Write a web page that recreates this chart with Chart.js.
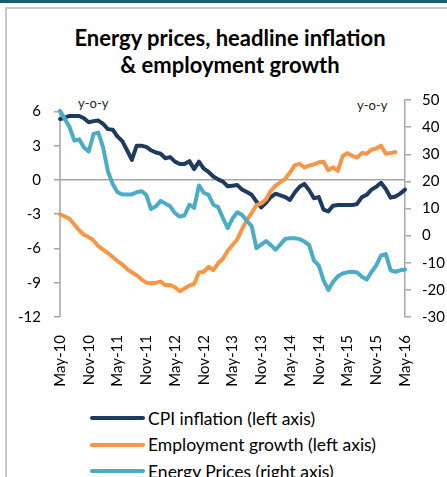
<!DOCTYPE html>
<html>
<head>
<meta charset="utf-8">
<script src="https://cdn.jsdelivr.net/npm/chart.js@4.4.1/dist/chart.umd.min.js"></script>
<style>
  body { margin: 0; background: #fff; }
  #wrap { position: relative; width: 447px; height: 477px; overflow: hidden; background: #fff; font-family: Lato, "Open Sans", sans-serif; }
  #topbar { position: absolute; left: 0; top: 0; width: 447px; height: 3px; background: #1F5A6E; }
  #frame { position: absolute; left: 5px; top: 7px; width: 460px; height: 480px; border-left: 2px solid #C8C8C8; border-top: 2px solid #C8C8C8; }
  #title { position: absolute; left: 5px; width: 450px; top: 24px; text-align: center; font-weight: bold; font-size: 22px; line-height: 27px; color: #000; }
  .yoy { position: absolute; font-size: 13px; color: #222; }
  #chart { position: absolute; left: 0; top: 0; }
  #legend { position: absolute; left: 90px; top: 405px; font-size: 17.5px; color: #000; }
  .item { height: 26.5px; display: flex; align-items: center; white-space: nowrap; }
  .swatch { width: 55px; height: 4px; border-radius: 2px; margin-right: 3px; }
</style>
</head>
<body>
<div id="wrap">
  <div id="topbar"></div>
  <div id="frame"></div>
  <div id="title">Energy prices, headline inflation<br>&amp; employment growth</div>
  <div class="yoy" style="left:78px; top:95px;">y-o-y</div>
  <div class="yoy" style="left:357px; top:97px;">y-o-y</div>
  <canvas id="chart" width="447" height="400"></canvas>
  <div id="legend"></div>
</div>
<script>
// monthly, May-10 .. May-16
const months = ["Jan", "Feb", "Mar", "Apr", "May", "Jun", "Jul", "Aug", "Sep", "Oct", "Nov", "Dec"];
const labels = [];
for (let i = 0; i < 73; i++) {
    let m = (4 + i) % 12;
    let y = 10 + Math.floor((4 + i) / 12);
    labels.push(months[m] + "-" + y);
}

const leftTicks = [-12, -9, -6, -3, 0, 3, 6];

const cpiInflation = [
    5.33, 5.45, 5.6, 5.6, 5.6, 5.4, 5.05, 5.15, 5.2, 4.9,
    4.45, 4.4, 3.8, 3.4, 2.6, 1.75, 3.0, 3.0, 2.9, 2.6,
    2.4, 2.3, 1.9, 2.0, 1.6, 1.4, 1.4, 1.65, 0.95, 1.6,
    1.0, 0.7, 0.3, 0.05, -0.15, -0.55, -0.5, -0.45, -0.85, -1.05,
    -1.3, -1.9, -2.4, -2.0, -1.5, -1.2, -1.35, -1.5, -1.75, -1.1,
    -0.6, -0.35, -0.9, -1.6, -1.5, -2.6, -2.75, -2.25, -2.2, -2.2,
    -2.2, -2.2, -2.1, -1.5, -1.3, -0.85, -0.6, -0.25, -0.8, -1.55,
    -1.45, -1.2, -0.85
];

const employmentGrowth = [
    -3.0, -3.2, -3.4, -3.9, -4.4, -4.8, -5.0, -5.3, -5.8, -6.1,
    -6.4, -6.75, -7.1, -7.4, -7.8, -8.1, -8.35, -8.7, -9.0, -9.05,
    -9.0, -8.9, -9.2, -9.2, -9.4, -9.75, -9.5, -9.25, -9.1, -8.1,
    -8.05, -7.6, -7.9, -7.3, -6.9, -6.2, -5.7, -5.2, -4.3, -3.5,
    -2.9, -2.2, -2.05, -1.7, -0.95, -0.5, -0.2, 0.1, 0.65, 1.3,
    1.4, 1.1, 1.25, 1.35, 1.55, 1.6, 0.85, 1.1, 0.8, 2.1,
    2.35, 2.1, 1.95, 2.35, 2.3, 2.65, 2.75, 3.0, 2.3, 2.35,
    2.45, null, null
];

const energyPrices = [
    46, 43, 40, 35, 35.5, 32.5, 31, 37.5, 38, 32.5,
    23.7, 19, 16, 15.2, 15.2, 15.2, 16, 16.4, 15, 9.8,
    10.8, 12.8, 11.8, 10.8, 8.3, 7, 7.5, 11.4, 10.2, 18.5,
    15.8, 15, 11.4, 10.5, 6.5, 2.8, 6.3, 8.6, 7.6, 5.5,
    3.5, -4.6, -3.3, -2, -3.5, -5.2, -3.2, -1.2, -1, -0.95,
    -1.3, -2.2, -3.5, -9.2, -11, -16.5, -20, -17, -15, -13.9,
    -13.5, -13.3, -13.6, -15.2, -16.2, -13.4, -11, -7.3, -6.8, -12.8,
    -13.3, -12.8, -12.5
];

const seriesNames = ["CPI inflation (left axis)", "Employment growth (left axis)", "Energy Prices (right axis)"];
const colors = ["#1F3A5F", "#F79646", "#4BACC6"];

const gray = "#A6A6A6";
const tickFont = { family: "Lato", size: 15 };

// left axis line only runs from 6 down to -12
const leftAxisLine = {
    id: "leftAxisLine",
    beforeDatasetsDraw(chart) {
        let s = chart.scales.yL;
        let ctx = chart.ctx;
        ctx.save();
        ctx.strokeStyle = gray;
        ctx.lineWidth = 1.5;
        ctx.beginPath();
        ctx.moveTo(s.right, s.getPixelForValue(6) - 2);
        ctx.lineTo(s.right, s.bottom);
        ctx.stroke();
        ctx.restore();
    }
};

function lineSet(i, data, axis, order) {
    return {
        label: seriesNames[i],
        data: data,
        yAxisID: axis,
        borderColor: colors[i],
        backgroundColor: colors[i],
        borderWidth: 4,
        pointRadius: 0,
        tension: 0,
        borderJoinStyle: "round",
        borderCapStyle: "round",
        order: order
    };
}

new Chart(document.getElementById("chart"), {
    type: "line",
    data: {
        labels: labels,
        datasets: [
            lineSet(0, cpiInflation, "yL", 2),
            lineSet(1, employmentGrowth, "yL", 1),
            lineSet(2, energyPrices, "yR", 0)
        ]
    },
    options: {
        responsive: false,
        animation: false,
        layout: { padding: { top: 100, left: 0, right: 0, bottom: 0 } },
        plugins: { legend: { display: false }, tooltip: { enabled: false } },
        scales: {
            x: {
                offset: false,
                grid: { display: false },
                border: { display: false },
                afterFit: s => { s.height = 83; },
                ticks: {
                    autoSkip: false,
                    maxRotation: 90,
                    minRotation: 90,
                    padding: 10,
                    color: "#000",
                    font: tickFont,
                    callback: function (v, i) { return i % 6 === 0 ? labels[i] : null; }
                }
            },
            yL: {
                position: "left",
                min: -12,
                max: 7,
                afterFit: s => { s.width = 60; },
                afterBuildTicks: s => { s.ticks = leftTicks.map(v => ({ value: v })); },
                border: { display: false },
                grid: {
                    drawTicks: true,
                    tickLength: 6,
                    tickColor: gray,
                    lineWidth: 1.5,
                    color: c => (c.tick && c.tick.value === 0) ? gray : "rgba(0,0,0,0)"
                },
                ticks: { padding: 13, color: "#000", font: tickFont }
            },
            yR: {
                position: "right",
                min: -30,
                max: 50,
                afterFit: s => { s.width = 42; },
                border: { display: true, color: gray, width: 1.5 },
                grid: { drawOnChartArea: false, tickLength: 6, tickColor: gray, lineWidth: 1.5 },
                ticks: { stepSize: 10, padding: 11, color: "#000", font: tickFont }
            }
        }
    },
    plugins: [leftAxisLine]
});

let legend = document.getElementById("legend");
seriesNames.forEach((name, i) => {
    let row = document.createElement("div");
    row.className = "item";
    row.innerHTML = '<span class="swatch" style="background:' + colors[i] + '"></span>' + name;
    legend.appendChild(row);
});
</script>
</body>
</html>
